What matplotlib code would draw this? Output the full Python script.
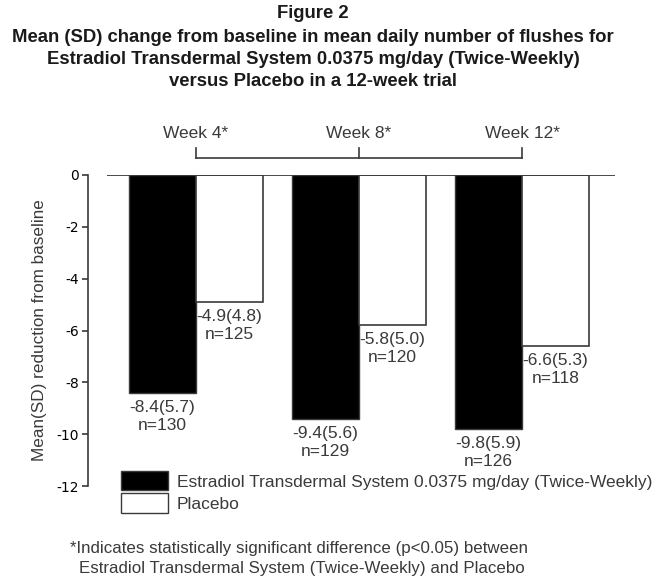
import matplotlib.pyplot as plt
from matplotlib.patches import Patch

weeks = ["Week 4*", "Week 8*", "Week 12*"]
estradiol_mean = [-8.4, -9.4, -9.8]
estradiol_sd = [5.7, 5.6, 5.9]
estradiol_n = [130, 129, 126]
placebo_mean = [-4.9, -5.8, -6.6]
placebo_sd = [4.8, 5.0, 5.3]
placebo_n = [125, 120, 118]
yticks = [0, -2, -4, -6, -8, -10, -12]

title_lines = [
    "Figure 2",
    "Mean (SD) change from baseline in mean daily number of flushes for",
    "Estradiol Transdermal System 0.0375 mg/day (Twice-Weekly)",
    "versus Placebo in a 12-week trial",
]

plain = ["Liberation Sans", "DejaVu Sans"]
ink = "#3a3a3a"

W, H = 655, 577
fig = plt.figure(figsize=(W / 100, H / 100), dpi=100)
ax = fig.add_axes([107 / W, 1 - 486 / H, (615 - 107) / W, (486 - 175) / H])

bw = 0.41
xs = list(range(len(weeks)))
ax.bar([x - bw / 2 for x in xs], estradiol_mean, bw, color="black",
       edgecolor=ink, lw=1, zorder=2)
ax.bar([x + bw / 2 for x in xs], placebo_mean, bw, color="white",
       edgecolor=ink, lw=1.2, zorder=2)
ax.axhline(0, color=ink, lw=1.3, zorder=3)

for x, m, s, n in zip(xs, estradiol_mean, estradiol_sd, estradiol_n):
    ax.annotate(f"{m}({s})\nn={n}", (x - bw / 2, m), xytext=(0, -5),
                textcoords="offset points", ha="center", va="top",
                fontsize=12.5, family=plain, color=ink, linespacing=1.25)
for x, m, s, n in zip(xs, placebo_mean, placebo_sd, placebo_n):
    ax.annotate(f"{m}({s})\nn={n}", (x + bw / 2, m), xytext=(0, -5),
                textcoords="offset points", ha="center", va="top",
                fontsize=12.5, family=plain, color=ink, linespacing=1.25)

# week bracket above the chart
yb = 0.65
ax.plot([xs[0], xs[-1]], [yb, yb], color=ink, lw=1.2, clip_on=False)
for x, w in zip(xs, weeks):
    ax.plot([x, x], [yb, yb + 0.4], color=ink, lw=1.2, clip_on=False)
    ax.text(x, 1.62, w, ha="center", va="center", fontsize=12.5,
            family=plain, color=ink, clip_on=False)

ax.set_xlim(-0.546, 2.57)
ax.set_ylim(-12, 0)
ax.set_xticks([])
ax.set_yticks(yticks)
ax.set_yticklabels([str(t) for t in yticks], family=plain, fontsize=12,
                   color="#4a4a4a")
ax.tick_params(axis="y", direction="out", length=4, width=1.2, color=ink,
               pad=2)
for side in ["top", "right", "bottom"]:
    ax.spines[side].set_visible(False)
ax.spines["left"].set_position(("outward", 14))
ax.spines["left"].set_color(ink)
ax.spines["left"].set_linewidth(1.2)

fig.text(40 / W, 1 - 330 / H, "Mean(SD) reduction from baseline",
         rotation=90, ha="center", va="center", fontsize=12.3,
         family=plain, color=ink)

for line, y in zip(title_lines, [14, 37, 59, 81]):
    fig.text(313 / W, 1 - y / H, line, ha="center", va="center",
             fontsize=13.3, fontweight="bold", family=plain, color="#1a1a1a")

handles = [Patch(facecolor="black", edgecolor=ink),
           Patch(facecolor="white", edgecolor=ink)]
fig.legend(handles, ["Estradiol Transdermal System 0.0375 mg/day (Twice-Weekly)",
                     "Placebo"],
           loc="upper left", bbox_to_anchor=(121 / W, 1 - 471 / H),
           frameon=False, borderpad=0, borderaxespad=0, labelspacing=0.15,
           handlelength=2.7, handleheight=1.35, handletextpad=0.5,
           prop={"family": plain, "size": 12.5}, labelcolor=ink)

fig.text(70 / W, 1 - 548 / H,
         "*Indicates statistically significant difference (p<0.05) between",
         ha="left", va="center", fontsize=12.2, family=plain, color=ink)
fig.text(79 / W, 1 - 569 / H,
         "Estradiol Transdermal System (Twice-Weekly) and Placebo",
         ha="left", va="center", fontsize=12.2, family=plain, color=ink)

fig.savefig("out.png", dpi=100)
